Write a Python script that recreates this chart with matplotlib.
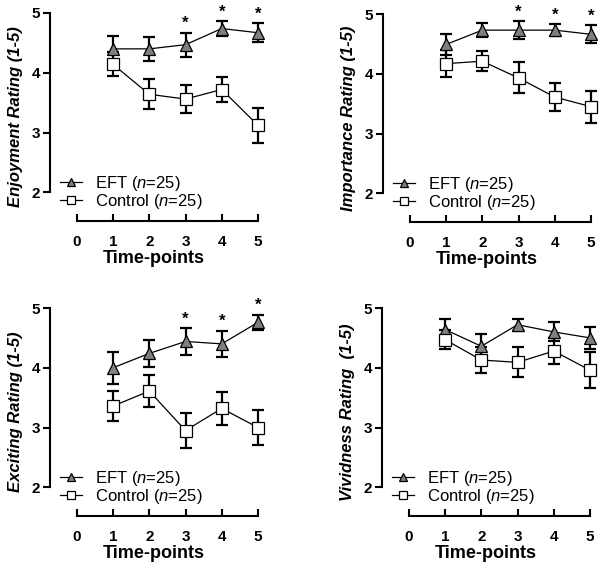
import numpy as np
import matplotlib
matplotlib.use("Agg")
import matplotlib.pyplot as plt

plt.rcParams['font.family'] = ['Liberation Sans', 'DejaVu Sans']
plt.rcParams['mathtext.fontset'] = 'custom'
plt.rcParams['mathtext.rm'] = 'Liberation Sans'
plt.rcParams['mathtext.it'] = 'Liberation Sans:italic'

# data (mean, error)
time_points = [1, 2, 3, 4, 5]

enjoy_eft = [4.40, 4.40, 4.47, 4.74, 4.67]
enjoy_eft_err = [0.21, 0.20, 0.20, 0.12, 0.16]
enjoy_ctl = [4.14, 3.64, 3.56, 3.72, 3.12]
enjoy_ctl_err = [0.20, 0.25, 0.24, 0.21, 0.29]
enjoy_sig = [3, 4, 5]

import_eft = [4.49, 4.73, 4.73, 4.73, 4.66]
import_eft_err = [0.18, 0.12, 0.15, 0.10, 0.15]
import_ctl = [4.17, 4.21, 3.93, 3.61, 3.45]
import_ctl_err = [0.23, 0.17, 0.26, 0.24, 0.27]
import_sig = [3, 4, 5]

excit_eft = [4.00, 4.24, 4.44, 4.40, 4.76]
excit_eft_err = [0.27, 0.22, 0.22, 0.22, 0.13]
excit_ctl = [3.36, 3.61, 2.95, 3.32, 3.00]
excit_ctl_err = [0.25, 0.27, 0.30, 0.28, 0.29]
excit_sig = [3, 4, 5]

vivid_eft = [4.64, 4.36, 4.72, 4.60, 4.50]
vivid_eft_err = [0.17, 0.20, 0.10, 0.16, 0.18]
vivid_ctl = [4.47, 4.13, 4.09, 4.28, 3.96]
vivid_ctl_err = [0.16, 0.22, 0.25, 0.21, 0.30]
vivid_sig = []

panels = [
    ("Enjoyment Rating (1-5)", enjoy_eft, enjoy_eft_err, enjoy_ctl, enjoy_ctl_err, enjoy_sig),
    ("Importance Rating (1-5)", import_eft, import_eft_err, import_ctl, import_ctl_err, import_sig),
    ("Exciting Rating (1-5)", excit_eft, excit_eft_err, excit_ctl, excit_ctl_err, excit_sig),
    ("Vividness Rating  (1-5)", vivid_eft, vivid_eft_err, vivid_ctl, vivid_ctl_err, vivid_sig),
]

W, H = 604, 569
fig = plt.figure(figsize=(W / 100, H / 100), dpi=100)

# left spine x (px), y=5 top (px)
positions = [(50, 13), (383, 14), (50, 308), (382, 308)]
ax_w, ax_h = 208, 208

for (ylab, eft, eft_err, ctl, ctl_err, sig), (lx, ty) in zip(panels, positions):
    ax = fig.add_axes([lx / W, 1 - (ty + ax_h) / H, ax_w / W, ax_h / H])
    ax.set_xlim(-0.74, 5.0)
    ax.set_ylim(1.52, 5.0)

    ax.errorbar(time_points, ctl, yerr=ctl_err, fmt='none', ecolor='black',
                elinewidth=1.6, capsize=4, capthick=1.6, clip_on=False, zorder=2)
    ax.errorbar(time_points, eft, yerr=eft_err, fmt='none', ecolor='black',
                elinewidth=1.6, capsize=4, capthick=1.6, clip_on=False, zorder=2)
    ax.plot(time_points, eft, color='black', lw=0.9, marker='^', ms=8.5,
            mfc='#7f7f7f', mec='black', mew=0.9, clip_on=False, zorder=3,
            label='EFT ($\\mathit{n}$=25)')
    ax.plot(time_points, ctl, color='black', lw=0.9, marker='s', ms=9,
            mfc='white', mec='black', mew=0.9, clip_on=False, zorder=4,
            label='Control ($\\mathit{n}$=25)')

    for s in sig:
        i = time_points.index(s)
        ax.text(s, eft[i] + eft_err[i] + 0.03, '*', ha='center', va='bottom',
                fontsize=12, fontweight='bold', clip_on=False)

    for side in ['top', 'right']:
        ax.spines[side].set_visible(False)
    ax.spines['left'].set_bounds(2, 5)
    ax.spines['bottom'].set_bounds(0, 5)
    ax.spines['left'].set_linewidth(1.5)
    ax.spines['bottom'].set_linewidth(1.5)

    ax.set_yticks([2, 3, 4, 5])
    ax.set_xticks([0, 1, 2, 3, 4, 5])
    ax.tick_params(axis='y', direction='out', length=5, width=1.5, labelsize=11, pad=2)
    ax.tick_params(axis='x', direction='in', length=5, width=1.5, labelsize=11, pad=10)
    for lab in ax.get_xticklabels() + ax.get_yticklabels():
        lab.set_fontweight('bold')

    ax.set_xlabel('Time-points', fontsize=13, fontweight='bold', labelpad=1)
    ax.set_ylabel(ylab, fontsize=12, fontweight='bold', style='italic', labelpad=6)

    ax.legend(loc='lower left', bbox_to_anchor=(0.05, 0.05), frameon=False,
              fontsize=12, handlelength=1.3, handletextpad=0.8, labelspacing=-0.08,
              borderpad=0, borderaxespad=0, markerscale=0.7)

fig.savefig('out.png', dpi=100)
